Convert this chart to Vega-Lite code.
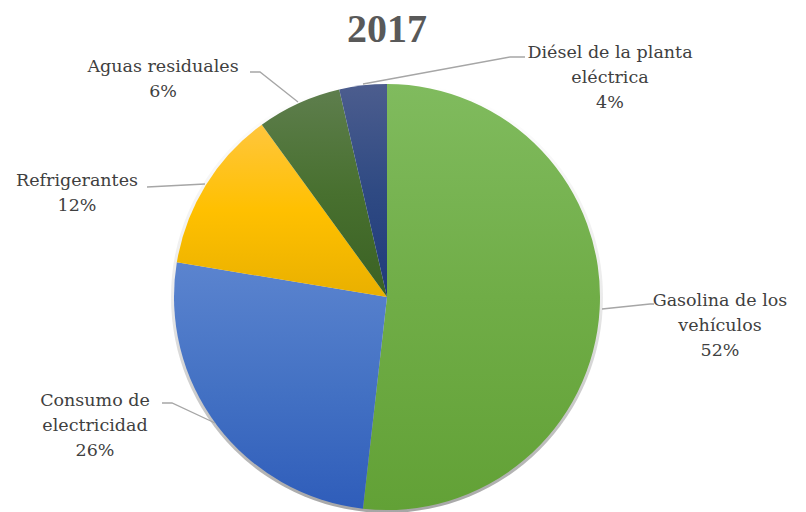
{
  "$schema": "https://vega.github.io/schema/vega-lite/v6.json",
  "width": 774,
  "height": 430,
  "autosize": {"type": "none"},
  "padding": {"left": 0, "top": 82, "right": 32, "bottom": 0},
  "background": "white",
  "title": {"text": "2017", "font": "Times New Roman", "fontSize": 40, "fontWeight": "bold", "color": "#595959", "anchor": "middle", "baseline": "alphabetic", "offset": 2, "dy": 40, "frame": "group"},
  "config": {"view": {"stroke": null}},
  "datasets": {
    "slices": [
      {"fuente": "Gasolina de los vehículos", "valor": 51.8, "orden": 1},
      {"fuente": "Consumo de electricidad", "valor": 25.8, "orden": 2},
      {"fuente": "Refrigerantes", "valor": 12.4, "orden": 3},
      {"fuente": "Aguas residuales", "valor": 6.4, "orden": 4},
      {"fuente": "Diésel de la planta eléctrica", "valor": 3.6, "orden": 5}
    ],
    "etiquetas": [
      {"fuente": "Gasolina de los vehículos", "orden": 1, "x": 1.5634, "y": -0.0423, "texto": "Gasolina de los|vehículos|52%"},
      {"fuente": "Consumo de electricidad", "orden": 2, "x": -1.3709, "y": -0.5117, "texto": "Consumo de|electricidad|26%"},
      {"fuente": "Refrigerantes", "orden": 3, "x": -1.4554, "y": 0.5211, "texto": "Refrigerantes|12%"},
      {"fuente": "Aguas residuales", "orden": 4, "x": -1.0516, "y": 1.0563, "texto": "Aguas residuales|6%"},
      {"fuente": "Diésel de la planta eléctrica", "orden": 5, "x": 1.0469, "y": 1.1221, "texto": "Diésel de la planta|eléctrica|4%"}
    ],
    "guias": [
      {"fuente": "Gasolina de los vehículos", "p": 1, "x": 1.0094, "y": -0.0563},
      {"fuente": "Gasolina de los vehículos", "p": 2, "x": 1.2347, "y": -0.0329},
      {"fuente": "Gasolina de los vehículos", "p": 3, "x": 1.2535, "y": -0.0329},
      {"fuente": "Consumo de electricidad", "p": 1, "x": -0.8075, "y": -0.5915},
      {"fuente": "Consumo de electricidad", "p": 2, "x": -1.0094, "y": -0.4977},
      {"fuente": "Consumo de electricidad", "p": 3, "x": -1.0563, "y": -0.4977},
      {"fuente": "Refrigerantes", "p": 1, "x": -0.8545, "y": 0.5305},
      {"fuente": "Refrigerantes", "p": 2, "x": -1.1268, "y": 0.5164},
      {"fuente": "Aguas residuales", "p": 1, "x": -0.4178, "y": 0.9155},
      {"fuente": "Aguas residuales", "p": 2, "x": -0.5962, "y": 1.0563},
      {"fuente": "Aguas residuales", "p": 3, "x": -0.6432, "y": 1.0563},
      {"fuente": "Diésel de la planta eléctrica", "p": 1, "x": -0.1127, "y": 1.0},
      {"fuente": "Diésel de la planta eléctrica", "p": 2, "x": 0.5775, "y": 1.1268},
      {"fuente": "Diésel de la planta eléctrica", "p": 3, "x": 0.6479, "y": 1.1268}
    ]
  },
  "layer": [
    {
      "data": {"name": "slices"},
      "transform": [{"aggregate": [{"op": "sum", "field": "valor", "as": "total"}]}],
      "mark": {"type": "arc", "outerRadius": 216, "color": {"gradient": "linear", "x1": 0, "y1": 0, "x2": 0, "y2": 1, "stops": [{"offset": 0, "color": "rgba(0,0,0,0)"}, {"offset": 0.5, "color": "rgba(0,0,0,0.08)"}, {"offset": 1, "color": "rgba(0,0,0,0.35)"}]}},
      "encoding": {"theta": {"field": "total", "type": "quantitative", "scale": {"domain": [0, 100]}}}
    },
    {
      "data": {"name": "slices"},
      "transform": [
        {"stack": "valor", "groupby": [], "sort": [{"field": "orden", "order": "ascending"}], "as": ["ini", "fin"]},
        {"filter": {"field": "orden", "equal": 1}}
      ],
      "mark": {"type": "arc", "outerRadius": 213, "color": {"gradient": "linear", "x1": 0, "y1": 0, "x2": 0, "y2": 1, "stops": [{"offset": 0, "color": "#80bb5e"}, {"offset": 0.5, "color": "#70ad47"}, {"offset": 1, "color": "#62a136"}]}},
      "encoding": {"theta": {"field": "ini", "type": "quantitative", "scale": {"domain": [0, 100]}}, "theta2": {"field": "fin"}}
    },
    {
      "data": {"name": "slices"},
      "transform": [
        {"stack": "valor", "groupby": [], "sort": [{"field": "orden", "order": "ascending"}], "as": ["ini", "fin"]},
        {"filter": {"field": "orden", "equal": 2}}
      ],
      "mark": {"type": "arc", "outerRadius": 213, "color": {"gradient": "linear", "x1": 0, "y1": 0, "x2": 0, "y2": 1, "stops": [{"offset": 0, "color": "#5b84cf"}, {"offset": 0.5, "color": "#4472c4"}, {"offset": 1, "color": "#2f5dba"}]}},
      "encoding": {"theta": {"field": "ini", "type": "quantitative", "scale": {"domain": [0, 100]}}, "theta2": {"field": "fin"}}
    },
    {
      "data": {"name": "slices"},
      "transform": [
        {"stack": "valor", "groupby": [], "sort": [{"field": "orden", "order": "ascending"}], "as": ["ini", "fin"]},
        {"filter": {"field": "orden", "equal": 3}}
      ],
      "mark": {"type": "arc", "outerRadius": 213, "color": {"gradient": "linear", "x1": 0, "y1": 0, "x2": 0, "y2": 1, "stops": [{"offset": 0, "color": "#ffc63d"}, {"offset": 0.5, "color": "#ffc000"}, {"offset": 1, "color": "#e9b000"}]}},
      "encoding": {"theta": {"field": "ini", "type": "quantitative", "scale": {"domain": [0, 100]}}, "theta2": {"field": "fin"}}
    },
    {
      "data": {"name": "slices"},
      "transform": [
        {"stack": "valor", "groupby": [], "sort": [{"field": "orden", "order": "ascending"}], "as": ["ini", "fin"]},
        {"filter": {"field": "orden", "equal": 4}}
      ],
      "mark": {"type": "arc", "outerRadius": 213, "color": {"gradient": "linear", "x1": 0, "y1": 0, "x2": 0, "y2": 1, "stops": [{"offset": 0, "color": "#5e7e4d"}, {"offset": 0.5, "color": "#48702f"}, {"offset": 1, "color": "#3a6123"}]}},
      "encoding": {"theta": {"field": "ini", "type": "quantitative", "scale": {"domain": [0, 100]}}, "theta2": {"field": "fin"}}
    },
    {
      "data": {"name": "slices"},
      "transform": [
        {"stack": "valor", "groupby": [], "sort": [{"field": "orden", "order": "ascending"}], "as": ["ini", "fin"]},
        {"filter": {"field": "orden", "equal": 5}}
      ],
      "mark": {"type": "arc", "outerRadius": 213, "color": {"gradient": "linear", "x1": 0, "y1": 0, "x2": 0, "y2": 1, "stops": [{"offset": 0, "color": "#4c5d8e"}, {"offset": 0.5, "color": "#2f4a83"}, {"offset": 1, "color": "#1f3a7a"}]}},
      "encoding": {"theta": {"field": "ini", "type": "quantitative", "scale": {"domain": [0, 100]}}, "theta2": {"field": "fin"}}
    },
    {
      "data": {"name": "guias"},
      "mark": {"type": "line", "color": "#a6a6a6", "strokeWidth": 1.3},
      "encoding": {
        "x": {"field": "x", "type": "quantitative", "scale": {"domain": [-1.8169, 1.8169], "nice": false, "zero": false}, "axis": null},
        "y": {"field": "y", "type": "quantitative", "scale": {"domain": [-1.00939, 1.00939], "nice": false, "zero": false}, "axis": null},
        "detail": {"field": "fuente"},
        "order": {"field": "p", "type": "quantitative"}
      }
    },
    {
      "data": {"name": "etiquetas"},
      "mark": {"type": "text", "font": "DejaVu Serif", "fontSize": 17.5, "color": "#404040", "align": "center", "baseline": "alphabetic", "lineHeight": 25, "lineBreak": "|"},
      "encoding": {
        "x": {"field": "x", "type": "quantitative", "scale": {"domain": [-1.8169, 1.8169], "nice": false, "zero": false}, "axis": null},
        "y": {"field": "y", "type": "quantitative", "scale": {"domain": [-1.00939, 1.00939], "nice": false, "zero": false}, "axis": null},
        "text": {"field": "texto", "type": "nominal"}
      }
    }
  ]
}
